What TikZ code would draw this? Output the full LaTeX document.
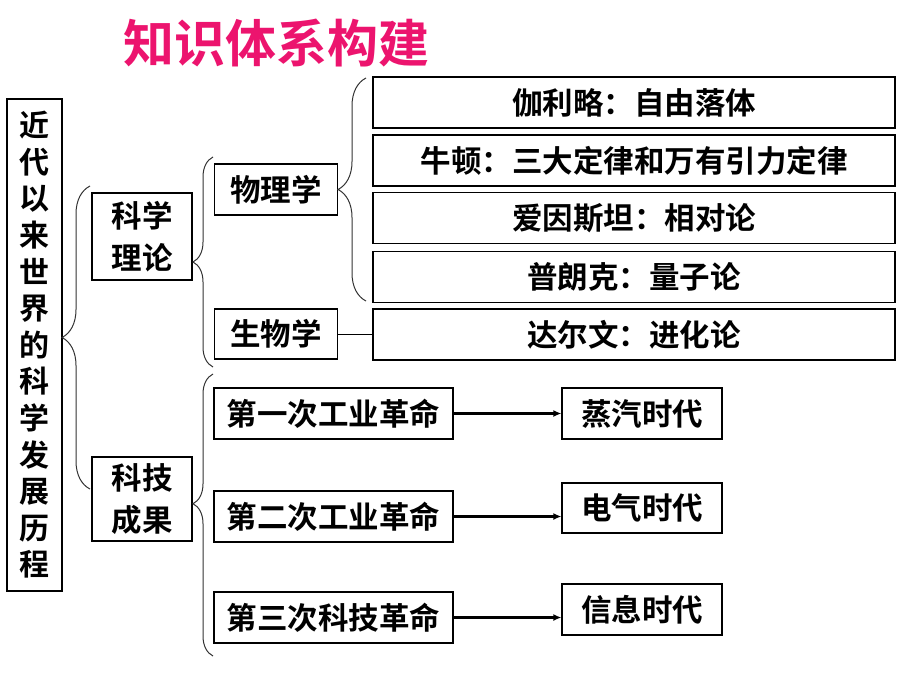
\documentclass[tikz,border=0pt]{standalone}
\usepackage{fontspec}
\setmainfont{Noto Sans CJK SC}[UprightFont = * Bold, BoldFont = * Black]
\usetikzlibrary{arrows.meta, decorations.pathreplacing, positioning}
\definecolor{titlepink}{RGB}{236,20,110}
\tikzset{
  box/.style={draw, line width=1.2pt, inner sep=0pt, align=center,
    font=\fontsize{30.5}{42}\selectfont},
  brace line/.style={line width=1pt, black!80, decorate,
    decoration={brace, amplitude=#1}},
  bar arrow/.style={-{Latex[length=8pt, width=7pt]}, line width=2.4pt},
}
\begin{document}
\begin{tikzpicture}[x=1pt, y=-1pt]
    \useasboundingbox (0,0) rectangle (920,690);

    % Title
    \node[font=\fontsize{51}{51}\selectfont, text=titlepink] (title) at (276,43) {知识体系构建};

    % Root and first level
    \node[box, minimum width=55, minimum height=492, font=\fontsize{30}{36.6}\selectfont] (root) at (34.5,345)
        {近\\代\\以\\来\\世\\界\\的\\科\\学\\发\\展\\历\\程};
    \node[box, minimum width=100, minimum height=87] (kxll) at (142,236.5) {科学\\理论};
    \node[box, minimum width=100, minimum height=84] (kjcg) at (142,499) {科技\\成果};

    % Theories
    \node[box, minimum width=123, minimum height=51] (wlx) at (276,189.5) {物理学};
    \node[box, minimum width=123, minimum height=50] (swx) at (276,334) {生物学};
    \node[box, minimum width=522, minimum height=51] (jll) at (634,102.5) {伽利略：自由落体};
    \node[box, minimum width=522, minimum height=51] (nd) at (634,160.5) {牛顿：三大定律和万有引力定律};
    \node[box, minimum width=522, minimum height=51] (ast) at (634,218) {爱因斯坦：相对论};
    \node[box, minimum width=522, minimum height=51] (plk) at (634,277) {普朗克：量子论};
    \node[box, minimum width=522, minimum height=51] (dew) at (634,334.5) {达尔文：进化论};

    % Revolutions and ages
    \node[box, minimum width=239, minimum height=51] (gm1) at (333.5,413.5) {第一次工业革命};
    \node[box, minimum width=239, minimum height=51] (gm2) at (333.5,516.5) {第二次工业革命};
    \node[box, minimum width=239, minimum height=51] (gm3) at (333.5,617.5) {第三次科技革命};
    \node[box, minimum width=160, minimum height=51] (sd1) at (642,413.5) {蒸汽时代};
    \node[box, minimum width=160, minimum height=50] (sd2) at (642,508) {电气时代};
    \node[box, minimum width=160, minimum height=51] (sd3) at (642,609.5) {信息时代};

    % Braces
    \coordinate (b1s) at (90,489);  \coordinate (b1e) at (90,186);
    \coordinate (b2s) at (213,367); \coordinate (b2e) at (213,157);
    \coordinate (b3s) at (366,301); \coordinate (b3e) at (366,78);
    \coordinate (b4s) at (213,656); \coordinate (b4e) at (213,374);
    \draw[brace line=28] (b1s) -- (b1e);
    \draw[brace line=20] (b2s) -- (b2e);
    \draw[brace line=28] (b3s) -- (b3e);
    \draw[brace line=20, decoration={aspect=0.54}] (b4s) -- (b4e);

    % Connectors
    \draw[line width=1pt] (swx.east) -- (swx.east -| dew.west);
    \draw[bar arrow] (gm1.east) -- (gm1.east -| sd1.west);
    \draw[bar arrow] (gm2.east) -- (gm2.east -| sd2.west);
    \draw[bar arrow] (gm3.east) -- (gm3.east -| sd3.west);
\end{tikzpicture}
\end{document}
